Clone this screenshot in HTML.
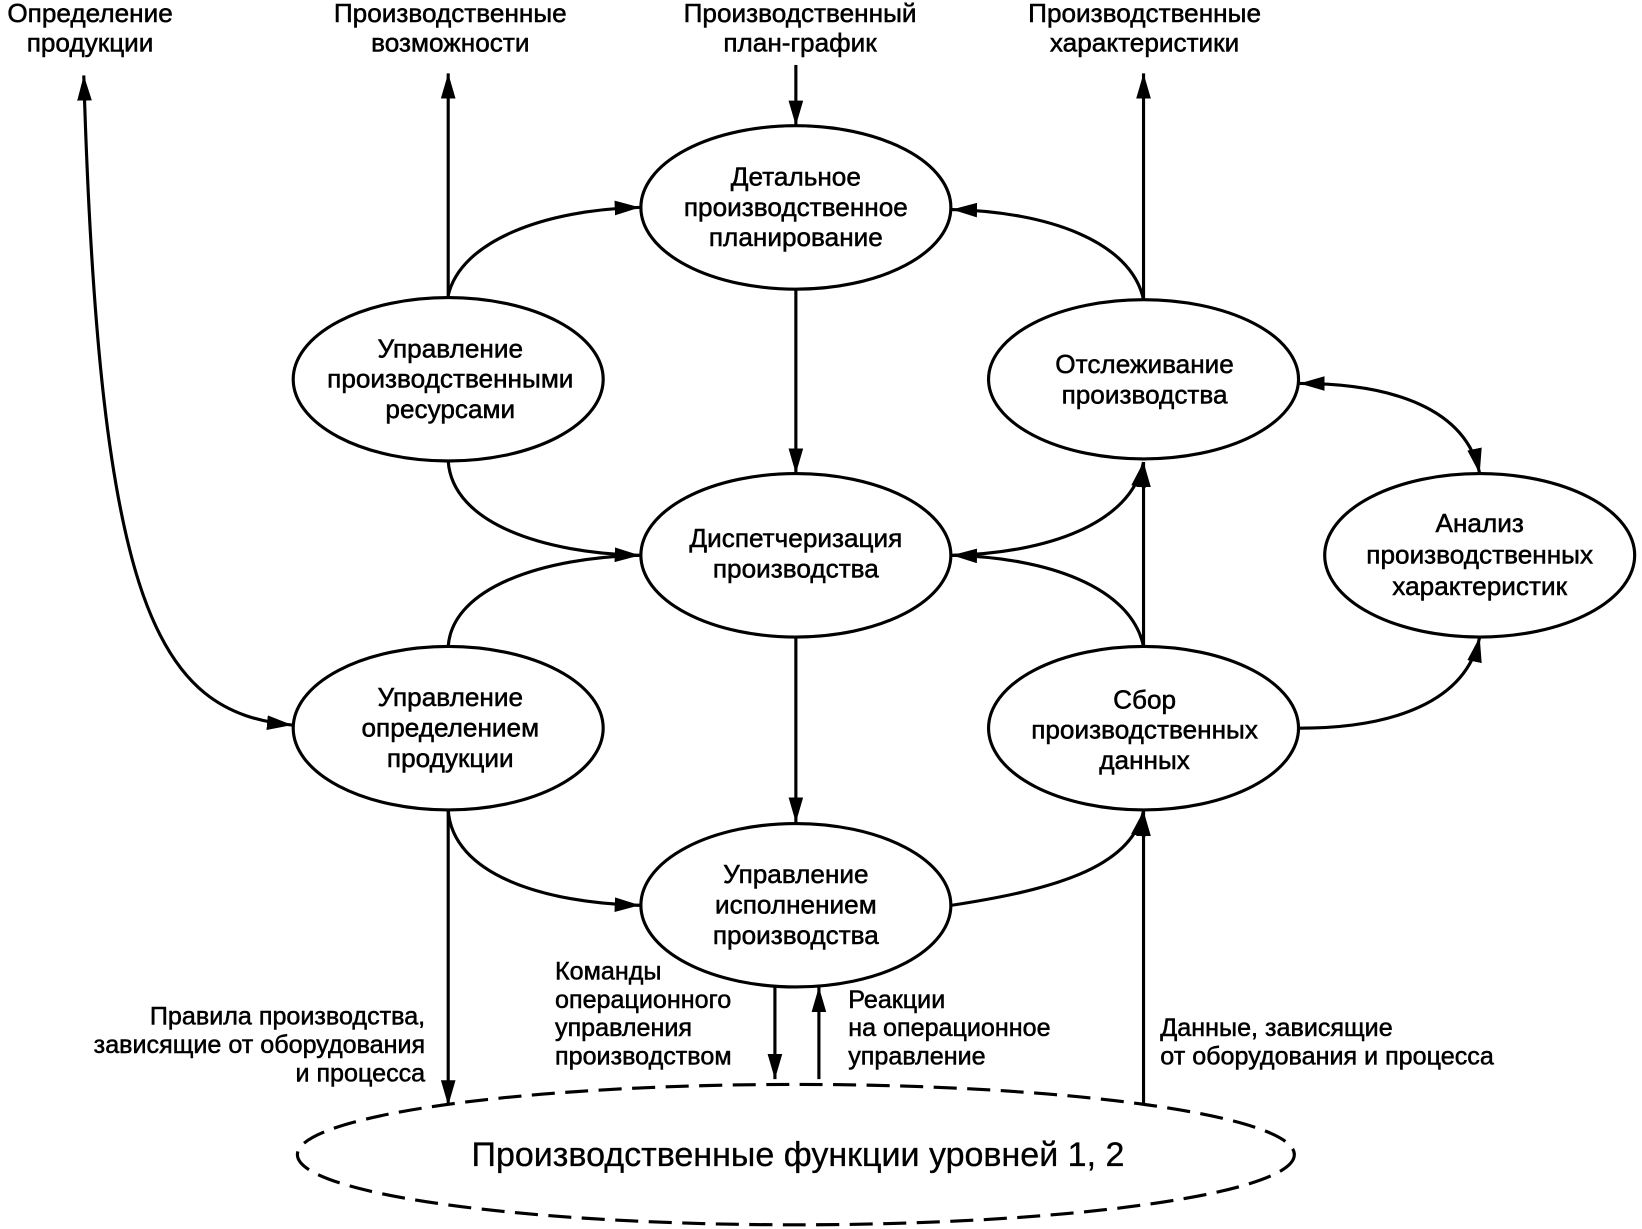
<!DOCTYPE html>
<html><head><meta charset="utf-8"><style>html,body{margin:0;padding:0;background:#fff}svg{display:block}</style></head>
<body>
<svg width="1642" height="1229" viewBox="0 0 1568 1173" preserveAspectRatio="none" xmlns="http://www.w3.org/2000/svg" font-family="Liberation Sans, sans-serif">
<defs>
<marker id="b" viewBox="0 0 24 14" refX="24" refY="7" markerWidth="24" markerHeight="14" markerUnits="userSpaceOnUse" orient="auto-start-reverse">
<path d="M0,0 L24,7 L0,14 z" fill="#000"/>
</marker>
</defs>
<g fill="none" stroke="#000" stroke-width="3">
<ellipse cx="760" cy="198" rx="148" ry="78"/>
<ellipse cx="428" cy="362" rx="148" ry="78"/>
<ellipse cx="1092" cy="362" rx="148" ry="76"/>
<ellipse cx="760" cy="530" rx="148" ry="78"/>
<ellipse cx="1413" cy="530" rx="148" ry="78"/>
<ellipse cx="428" cy="695" rx="148" ry="78"/>
<ellipse cx="1092" cy="695" rx="148" ry="78"/>
<ellipse cx="760" cy="864" rx="148" ry="78"/>
<ellipse cx="760" cy="1102" rx="476" ry="67" stroke-dasharray="22,10"/>

<line x1="760" y1="62" x2="760" y2="120" marker-end="url(#b)"/>
<line x1="760" y1="277" x2="760" y2="452" marker-end="url(#b)"/>
<line x1="760" y1="608" x2="760" y2="785" marker-end="url(#b)"/>
<line x1="428" y1="284" x2="428" y2="70" marker-end="url(#b)"/>
<line x1="1092" y1="286" x2="1092" y2="70" marker-end="url(#b)"/>
<path d="M428,282 C440,230 520,200 611,198" marker-end="url(#b)"/>
<path d="M1092,286 C1080,230 1000,202 909,200" marker-end="url(#b)"/>
<path d="M428,440 C432,500 520,528 611,530" marker-end="url(#b)"/>
<path d="M428,617 C432,560 520,532 611,530"/>
<path d="M909,530 C1000,528 1080,500 1092,441" marker-end="url(#b)"/>
<path d="M1092,617 C1080,560 1000,532 909,530" marker-end="url(#b)"/>
<line x1="1092" y1="617" x2="1092" y2="441" marker-end="url(#b)"/>
<path d="M1241,366 C1330,366 1400,390 1413,452" marker-start="url(#b)" marker-end="url(#b)"/>
<path d="M1241,695 C1330,695 1400,670 1413,608" marker-end="url(#b)"/>
<path d="M428,773 C432,835 520,862 611,864" marker-end="url(#b)"/>
<line x1="428" y1="773" x2="428" y2="1055" marker-end="url(#b)"/>
<path d="M909,864 C1000,850 1080,830 1092,774" marker-end="url(#b)"/>
<line x1="1092" y1="1055" x2="1092" y2="774" marker-end="url(#b)"/>
<line x1="740" y1="942" x2="740" y2="1030" marker-end="url(#b)"/>
<line x1="782" y1="1030" x2="782" y2="942" marker-end="url(#b)"/>
<path d="M279,692 C150,680 95,580 80,72" marker-start="url(#b)" marker-end="url(#b)"/>
</g>
<g font-size="25" text-anchor="middle" fill="#000" stroke="#000" stroke-width="0.5">
<text x="86" y="21">Определение</text><text x="86" y="49">продукции</text>
<text x="430" y="21">Производственные</text><text x="430" y="49">возможности</text>
<text x="764" y="21">Производственный</text><text x="764" y="49">план-график</text>
<text x="1093" y="21">Производственные</text><text x="1093" y="49">характеристики</text>
<text x="760" y="177">Детальное</text><text x="760" y="206">производственное</text><text x="760" y="235">планирование</text>
<text x="430" y="341">Управление</text><text x="430" y="370">производственными</text><text x="430" y="399">ресурсами</text>
<text x="1093" y="356">Отслеживание</text><text x="1093" y="385">производства</text>
<text x="760" y="522">Диспетчеризация</text><text x="760" y="551">производства</text>
<text x="1413" y="508">Анализ</text><text x="1413" y="538">производственных</text><text x="1413" y="568">характеристик</text>
<text x="430" y="674">Управление</text><text x="430" y="703">определением</text><text x="430" y="732">продукции</text>
<text x="1093" y="676">Сбор</text><text x="1093" y="705">производственных</text><text x="1093" y="734">данных</text>
<text x="760" y="843">Управление</text><text x="760" y="872">исполнением</text><text x="760" y="901">производства</text>
</g>
<g font-size="24" fill="#000" stroke="#000" stroke-width="0.5">
<text x="530" y="935">Команды</text><text x="530" y="962">операционного</text><text x="530" y="989">управления</text><text x="530" y="1016">производством</text>
<text x="810" y="962">Реакции</text><text x="810" y="989">на операционное</text><text x="810" y="1016">управление</text>
<text x="1108" y="989">Данные, зависящие</text><text x="1108" y="1016">от оборудования и процесса</text>
<g text-anchor="end"><text x="406" y="978">Правила производства,</text><text x="406" y="1005">зависящие от оборудования</text><text x="406" y="1032">и процесса</text></g>
<text x="762" y="1113" font-size="32.5" text-anchor="middle" stroke-width="0.3">Производственные функции уровней 1, 2</text>
</g>
</svg>
</body></html>
